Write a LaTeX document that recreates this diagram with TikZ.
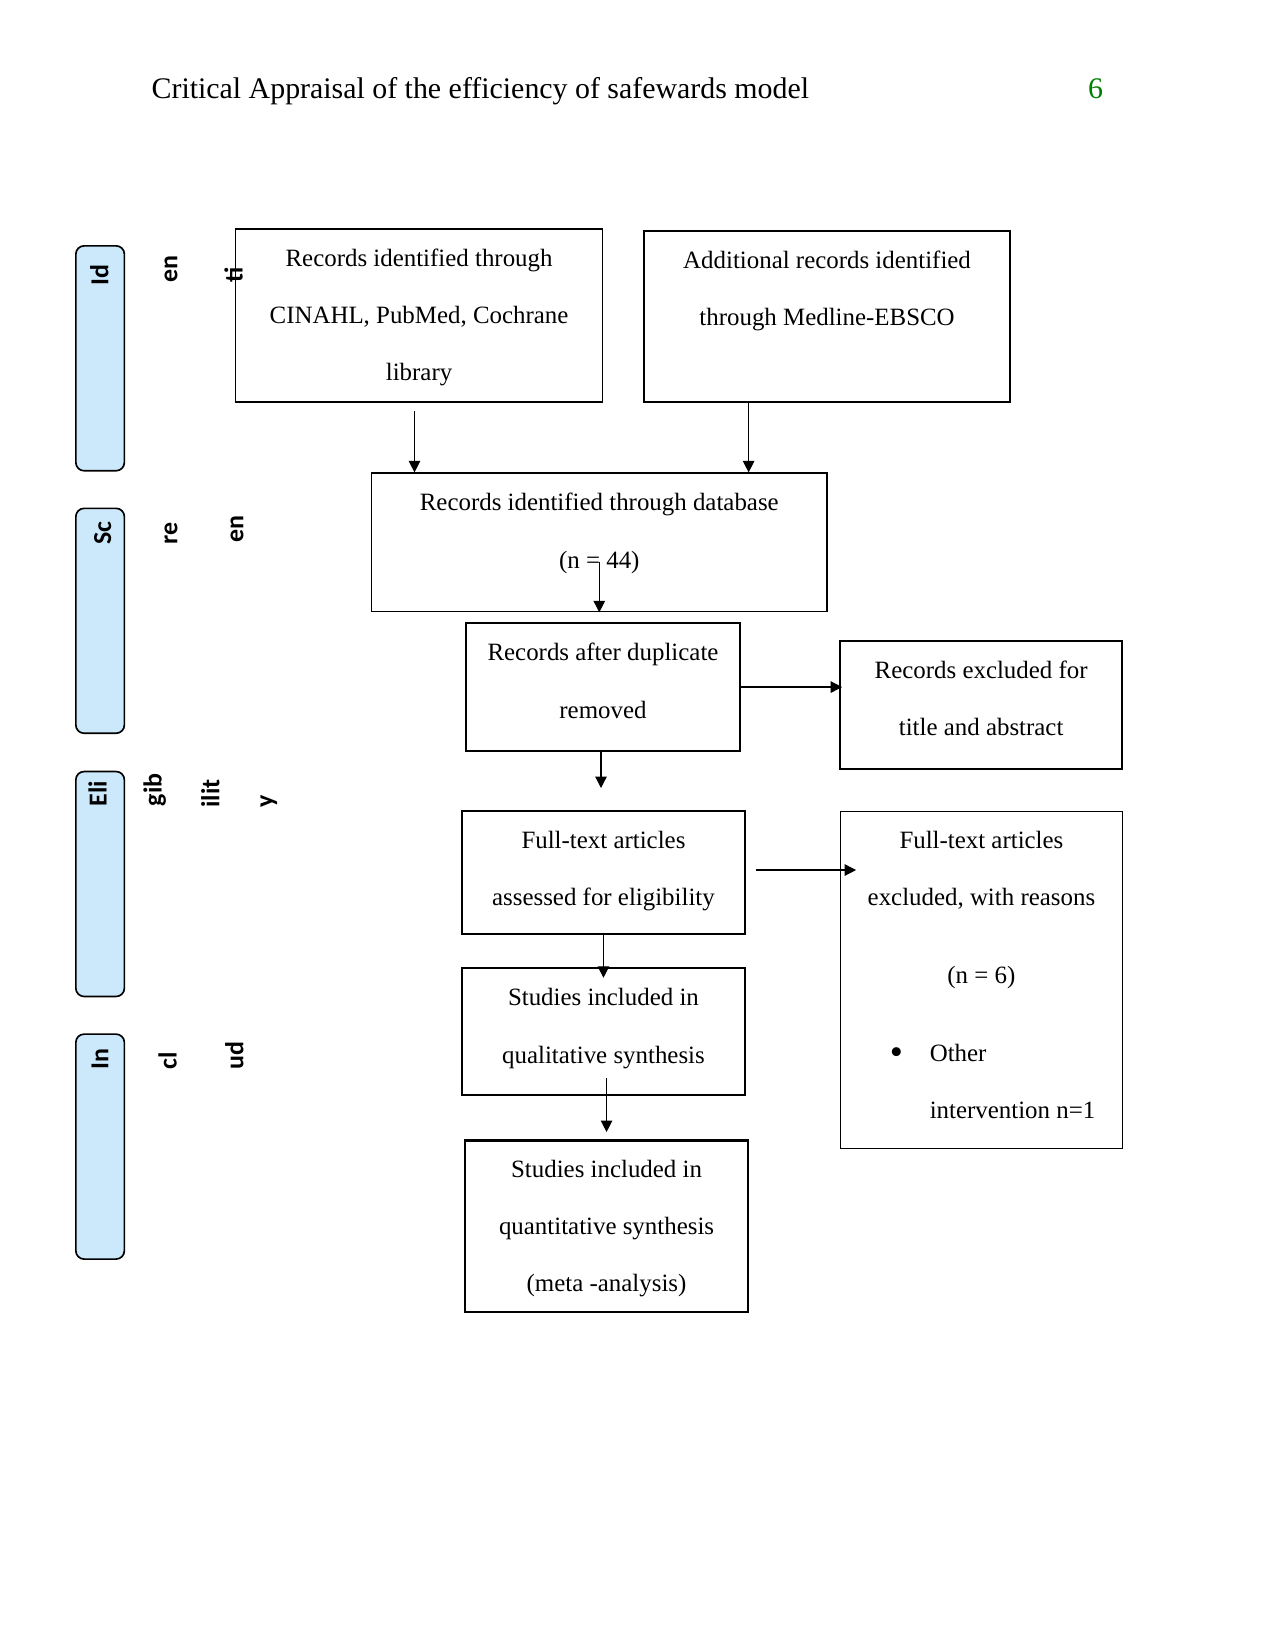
\documentclass[tikz,border=0pt]{standalone}
\usepackage{fontspec}
\setmainfont{Liberation Serif}
\newfontfamily\stagefont{Carlito}
\usetikzlibrary{arrows.meta, positioning}
\definecolor{cstage}{HTML}{CCE8FB}
\definecolor{cpage}{HTML}{008000}
\tikzset{
  every picture/.style={line width=0.6pt},
  box/.style={draw, line width=#1, anchor=north west, align=center, inner xsep=0pt, inner ysep=0pt,
    font=\fontsize{12}{27.6}\selectfont},
  box/.default=0.8pt,
  stage/.style={draw, fill=cstage, rounded corners=4pt, anchor=north west, inner sep=0pt,
    minimum width=23.4pt, minimum height=108.4pt, line width=0.8pt},
  chunk/.style={rotate=90, anchor=base west, inner sep=0pt, font=\stagefont\bfseries\fontsize{12.5}{13}\selectfont},
  arrow/.style={-{Triangle[length=5.5pt, width=5.5pt]}, line width=0.6pt},
}
\newcommand{\bigdot}{\makebox[0pt]{\raisebox{-1.6pt}{\fontsize{18}{18}\selectfont\textbullet}}}

\begin{document}
\begin{tikzpicture}[x=0.016933cm, y=-0.016933cm]
  \useasboundingbox[fill=white] (0,0) rectangle (1275,1651);
  % running head
  \node[anchor=base west, inner sep=0pt, font=\fontsize{14.4}{16}\selectfont] (title) at (151,98.3)
    {Critical Appraisal of the efficiency of safewards model};
  \node[anchor=base, inner sep=0pt, text=cpage, font=\fontsize{14.4}{16}\selectfont] (pnum) at (1095.5,98.3) {6};
  % stage bars and their broken labels
  \foreach \top [count=\k] in {245, 507.5, 770.7, 1033.3}
    \node[stage] (s\k) at (75,\top) {};
  \foreach \t/\x/\y [count=\k] in {Id/108.3/286, en/177.3/283.3, ti/242.7/283.3,
      Sc/111/545, re/177.3/545, en/243.3/543.3,
      Eli/106.7/806.7, gib/161.7/806.7, ilit/219.3/808.3, y/273/808.3,
      In/108.3/1070, cl/176.7/1070, ud/243.3/1070}
    \node[chunk] (c\k) at (\x,\y) {\t};
  % flow boxes (text height = top edge to last baseline)
  \node[box=0.6pt, minimum width=176.8pt, text height=73.27pt, text depth=10.18pt] (search) at (235,228.3)
    {Records identified through\\CINAHL, PubMed, Cochrane\\library};
  \node[box=1.1pt, minimum width=176.3pt, text height=45.67pt, text depth=36.96pt] (extra) at (643,229.5)
    {Additional records identified\\through Medline-EBSCO};
  \node[box=0.8pt, minimum width=219.7pt, text height=45.67pt, text depth=20.96pt] (total) at (370.5,472.4)
    {Records identified through database\\(n = 44)};
  \node[box=1pt, minimum width=132pt, text height=45.67pt, text depth=15.76pt] (dedup) at (465,622.3)
    {Records after duplicate\\removed};
  \node[box=1.1pt, minimum width=135.9pt, text height=45.67pt, text depth=16pt] (screenout) at (839,639.6)
    {Records excluded for\\title and abstract};
  \node[box=1pt, minimum width=136.3pt, text height=45.67pt, text depth=13.59pt] (fulltext) at (461,810)
    {Full-text articles\\assessed for eligibility};
  \node[box=0.7pt, minimum width=136.1pt, text height=148.1pt, text depth=14.4pt] (fullout) at (839.5,810.7)
    {Full-text articles\\excluded, with reasons\\[10pt](n = 6)\\[10pt]
     \makebox[100pt][l]{\hspace*{9.03pt}\bigdot\hspace*{16.07pt}Other}\\
     \makebox[100pt][l]{\hspace*{25.1pt}intervention n=1}};
  \node[box=1pt, minimum width=136.3pt, text height=45.67pt, text depth=15.33pt] (qual) at (461,967.4)
    {Studies included in\\qualitative synthesis};
  \node[box=1.1pt, minimum width=136.3pt, text height=72.94pt, text depth=9.78pt] (quant) at (464,1139.3)
    {Studies included in\\quantitative synthesis\\(meta -analysis)};
  % connectors
  \coordinate (searchOut) at (414.5,411);
  \draw[arrow] (searchOut) -- (searchOut |- total.north);
  \draw[arrow] ([xshift=-37.8pt]extra.south) -- ([xshift=-37.8pt]extra.south |- total.north);
  \draw[arrow] ([yshift=24.4pt]total.south) -- (total.south);
  \draw[arrow] (dedup.east) -- ([xshift=1.5pt]dedup.east -| screenout.west);
  \coordinate (fullIn) at (601,788);
  \draw[arrow] (dedup.south -| fullIn) -- (fullIn);
  \draw[arrow] ([xshift=4.8pt, yshift=1.2pt]fulltext.east) -- ([xshift=8pt, yshift=1.2pt]fulltext.east -| fullout.west);
  \draw[arrow] (fulltext.south) -- ([yshift=-5pt]qual.north);
  \draw[arrow] ([yshift=8.7pt]qual.south -| quant.north) -- ([yshift=3.5pt]quant.north);
\end{tikzpicture}
\end{document}
